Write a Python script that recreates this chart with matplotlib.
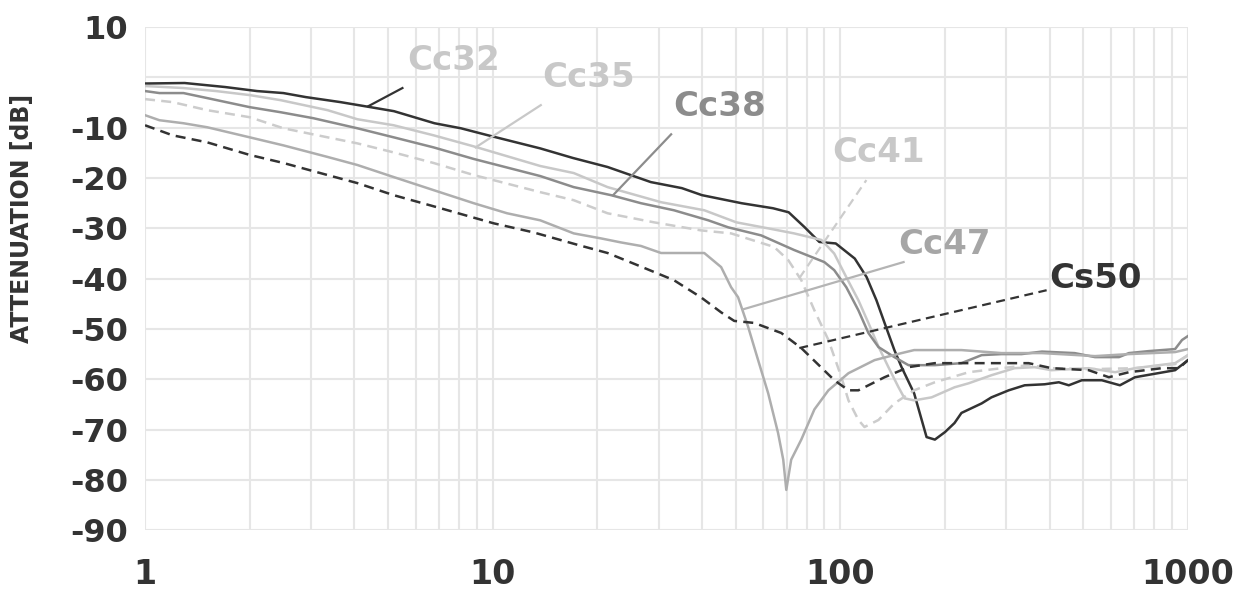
import matplotlib
matplotlib.use("Agg")
import matplotlib.pyplot as plt
from matplotlib.ticker import FixedLocator, LogLocator, NullFormatter

# ==========================================
# Data (frequency in MHz, attenuation in dB)
# ==========================================

cc32_x = [1, 1.3, 1.7, 2.1, 2.5, 2.9, 3.65, 4.45, 5.2, 6.8, 8.1, 9.7, 13.7, 17, 21.4, 28.5, 35, 40, 52, 64, 71,
          79, 87, 97, 110, 119, 127, 134, 143, 150, 163, 177, 187, 200, 213, 223, 255, 272, 305, 339, 387, 425,
          454, 495, 565, 637, 704, 918, 1000]
cc32_y = [-1.2, -1.1, -1.9, -2.7, -3.1, -3.9, -4.9, -5.9, -6.7, -9.1, -10.1, -11.5, -14.1, -16, -17.8, -20.8, -22,
          -23.4, -25, -26, -26.8, -29.8, -32.7, -33, -36, -39.7, -44.3, -48.8, -54.2, -57.6, -62.8, -71.5, -72,
          -70.5, -68.7, -66.7, -64.8, -63.6, -62.2, -61.2, -61, -60.6, -61.2, -60.2, -60.2, -61.2, -59.6, -58.2,
          -56.2]

cc35_x = [1, 1.29, 1.6, 2.0, 2.45, 3.35, 4.08, 5.19, 6.76, 8.82, 13.7, 17.1, 21.4, 30.5, 40.6, 50.2, 62, 73.6,
          88.2, 96, 104, 112.7, 120.4, 128.7, 137.5, 147, 153, 163, 183, 213, 234, 272, 317, 362, 405, 518, 617,
          704, 918, 1000]
cc35_y = [-1.7, -2.1, -2.7, -3.5, -4.5, -6.5, -8.3, -9.5, -11.5, -13.7, -17.6, -19, -21.8, -24.8, -26.4, -28.8,
          -30, -31, -32.3, -35, -39.7, -44.3, -48.8, -53.5, -57.6, -61.6, -63.8, -64.2, -63.6, -61.6, -60.8, -59.2,
          -57.8, -57.6, -58.2, -57.8, -58.6, -57.8, -56.8, -55.2]

cc38_x = [1, 1.1, 1.29, 1.51, 2.0, 2.45, 3.05, 4.08, 5.19, 6.76, 8.82, 13.7, 17.1, 21.9, 26.7, 33.2, 41.7, 47.6,
          59.2, 73.6, 89.9, 96, 104, 112.7, 120.4, 128.7, 143, 157, 187, 223, 255, 291, 332, 380, 472, 540, 633,
          676, 772, 918, 961, 1000]
cc38_y = [-2.7, -3.1, -3.1, -4.1, -5.9, -6.9, -8.1, -10.1, -11.9, -13.9, -16.2, -19.6, -21.8, -23.4, -25, -26.4,
          -28.4, -29.8, -31.4, -34.3, -36.7, -38.3, -41.7, -46.3, -50.8, -53.6, -55.6, -57.2, -57.2, -56.8, -55.2,
          -55, -55, -54.5, -54.8, -55.6, -55.6, -54.8, -54.4, -54, -52.2, -51.4]

cc41_x = [1, 1.2, 1.51, 2.0, 2.5, 3.35, 4.08, 5.19, 6.76, 8.82, 13.7, 17.1, 21.4, 29.1, 39.7, 48.5, 64.5, 70.8,
          77.2, 84.2, 92.4, 100.7, 105.5, 112.7, 117.3, 128.7, 143, 163, 187, 234, 291, 348, 405, 518, 704, 918,
          1000]
cc41_y = [-4.3, -4.9, -6.5, -7.9, -10.1, -11.9, -13.1, -14.9, -17, -19.4, -22.8, -24.4, -27, -28.8, -30.4, -31,
          -33.7, -36.3, -40.3, -46.3, -52.2, -59.6, -64.2, -68.1, -69.5, -68.1, -64.8, -62.2, -60.6, -58.6, -57.8,
          -57.2, -57.8, -58, -57.8, -57, -55.2]

cc47_x = [1, 1.1, 1.29, 1.51, 2.0, 2.5, 3.35, 4.08, 5.19, 6.76, 8.82, 11.0, 13.7, 17.1, 20.5, 23.4, 26.7, 30.5,
          40.6, 45.4, 48.5, 50.8, 54.3, 58, 62, 66.2, 68.5, 69.9, 72.2, 77.2, 84.2, 92.4, 105.5, 125.4, 150, 163,
          223, 291, 380, 540, 676, 918, 1000]
cc47_y = [-7.5, -8.5, -9.1, -9.9, -11.9, -13.5, -15.8, -17.4, -19.8, -22.4, -25, -27, -28.4, -31, -32, -32.8,
          -33.5, -34.9, -34.9, -37.7, -41.7, -43.7, -49.6, -56.2, -62.8, -70.7, -76, -82, -76, -72, -66, -62.2,
          -58.8, -56.2, -54.8, -54.2, -54.2, -54.8, -54.8, -55.4, -55, -54.6, -54]

cs50_x = [1, 1.2, 1.51, 2.0, 2.5, 3.35, 4.08, 5.19, 7.08, 10.07, 13.1, 17.6, 21.4, 26.7, 33.2, 39.7, 45.4, 49.5,
          56.5, 67.6, 77.2, 96.1, 105.5, 112.7, 134, 157, 187, 291, 348, 405, 518, 592, 676, 841, 942, 1000]
cs50_y = [-9.5, -11.5, -12.9, -15.4, -17, -19.4, -21, -23.4, -26, -29, -30.8, -33.3, -34.9, -37.6, -40.3, -43.7,
          -46.7, -48.4, -48.8, -50.8, -53.8, -60.2, -62.2, -62.2, -59.6, -57.6, -56.8, -56.8, -56.8, -57.8, -58.2,
          -59.6, -58.6, -57.8, -57.8, -56.2]

series_names = ["Cc32", "Cc35", "Cc38", "Cc41", "Cc47", "Cs50"]
series_x = [cc32_x, cc35_x, cc38_x, cc41_x, cc47_x, cs50_x]
series_y = [cc32_y, cc35_y, cc38_y, cc41_y, cc47_y, cs50_y]
line_colors = ["#333333", "#c8c8c8", "#8c8c8c", "#cccccc", "#aeaeae", "#333333"]
line_styles = ["-", "-", "-", "--", "-", "--"]

# label text position and leader line (from point on curve -> toward label)
label_pos = [(7.7, 3.4), (18.9, 0.0), (44.8, -5.7), (128.7, -15.0), (199, -33.3), (543, -39.9)]
leader_start = [(4.39, -5.7), (8.93, -13.9), (22.2, -23.4), (76.2, -39.9), (52.5, -46.1), (76.2, -53.8)]
leader_end = [(5.5, -2.1), (13.75, -5.5), (32.6, -11.3), (118.8, -20.4), (152, -36.7), (392, -42.3)]
label_colors = ["#c8c8c8", "#c8c8c8", "#8c8c8c", "#c8c8c8", "#a6a6a6", "#333333"]
leader_colors = ["#333333", "#c8c8c8", "#8c8c8c", "#cccccc", "#b4b4b4", "#333333"]

y_ticks = [10, 0, -10, -20, -30, -40, -50, -60, -70, -80, -90]
y_tick_labels = ["10", "", "-10", "-20", "-30", "-40", "-50", "-60", "-70", "-80", "-90"]
x_ticks = [1, 10, 100, 1000]
x_tick_labels = ["1", "10", "100", "1000"]

# ==========================================
# Plot
# ==========================================

plt.rcParams["font.family"] = ["DejaVu Sans"]

fig = plt.figure(figsize=(12.44, 5.91), dpi=100)
ax = fig.add_axes([0.1166, 0.103, 0.955 - 0.1166, 0.954 - 0.103])

ax.set_xscale("log")
ax.set_xlim(1, 1000)
ax.set_ylim(-90, 10)

for name, xs, ys, c, ls in zip(series_names, series_x, series_y, line_colors, line_styles):
    if ls == "--":
        ax.plot(xs, ys, color=c, lw=1.8, dashes=(4, 2.5), label=name, zorder=3)
    else:
        ax.plot(xs, ys, color=c, lw=1.8, label=name, zorder=3)

for name, pos, s, e, tc, lc, ls in zip(series_names, label_pos, leader_start, leader_end,
                                       label_colors, leader_colors, line_styles):
    if ls == "--":
        ax.plot([s[0], e[0]], [s[1], e[1]], color=lc, lw=1.6, dashes=(4, 2.5), zorder=4)
    else:
        ax.plot([s[0], e[0]], [s[1], e[1]], color=lc, lw=1.6, zorder=4)
    ax.text(pos[0], pos[1], name, color=tc, fontsize=24.5, fontweight="bold",
            ha="center", va="center", zorder=5)

ax.yaxis.set_major_locator(FixedLocator(y_ticks))
ax.set_yticklabels(y_tick_labels)
ax.xaxis.set_major_locator(FixedLocator(x_ticks))
ax.set_xticklabels(x_tick_labels)
ax.xaxis.set_minor_locator(LogLocator(base=10, subs=range(2, 10)))
ax.xaxis.set_minor_formatter(NullFormatter())

ax.grid(True, which="both", axis="x", color="#e6e6e6", lw=1.5, zorder=0)
ax.grid(True, which="major", axis="y", color="#e6e6e6", lw=1.5, zorder=0)
ax.set_axisbelow(True)

for sp in ax.spines.values():
    sp.set_visible(False)

ax.tick_params(axis="both", which="both", length=0)
ax.tick_params(axis="y", labelsize=23, pad=12, labelcolor="#333333")
ax.tick_params(axis="x", labelsize=24, pad=20, labelcolor="#333333")
for lab in ax.get_xticklabels() + ax.get_yticklabels():
    lab.set_fontweight("bold")

fig.text(22 / 1244, 1 - 218 / 591, "ATTENUATION [dB]", rotation=90, fontsize=17,
         fontweight="bold", color="#333333", ha="center", va="center")

fig.savefig("out.png", dpi=100)
